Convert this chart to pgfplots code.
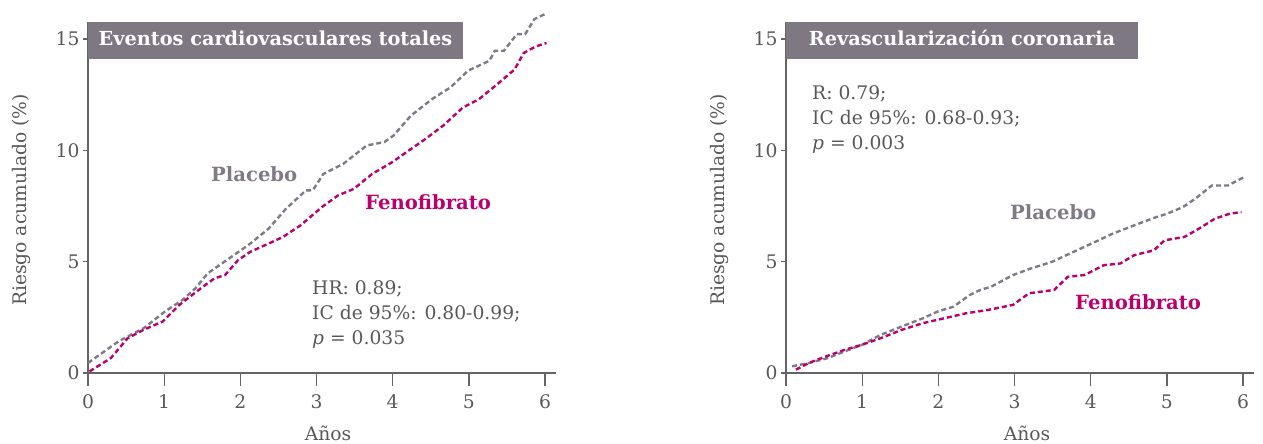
\documentclass[border=0pt]{standalone}
\usepackage{fontspec}
\setmainfont{DejaVu Serif}
\usepackage{pgfplots}
\pgfplotsset{compat=1.18}
\definecolor{plgray}{RGB}{127,122,133}
\definecolor{fenomag}{RGB}{185,0,110}
\definecolor{txtgray}{RGB}{88,88,90}
\definecolor{axgray}{RGB}{100,100,102}
\definecolor{boxgray}{RGB}{126,120,131}
\newcommand{\fs}{\fontsize{18.7pt}{25pt}\selectfont}
\newcommand{\fb}{\fontsize{19.6pt}{25pt}\selectfont\bfseries}
\pgfplotsset{panel/.style={
  scale only axis, width=468pt, height=350.7pt,
  xmin=0, xmax=6.144, ymin=0, ymax=15.75,
  axis line style={-, draw=axgray, line width=1.3pt},
  tick align=outside,
  tick style={draw=axgray, line width=1.3pt},
  ticklabel style={font=\fs, text=txtgray},
  /pgf/number format/assume math mode=true,
  clip=false,
  anchor=south west,
},
xpanel/.style={panel, axis x line*=bottom, axis y line=none,
  xtick={0,1,2,3,4,5,6}, ytick=\empty, major tick length=13pt,
  x tick label style={yshift=-5pt}},
ypanel/.style={panel, axis y line*=left, axis x line=none,
  ytick={0,5,10,15}, xtick=\empty, major tick length=5pt},
plc/.style={plgray, line width=2.4pt, dash pattern=on 5pt off 3pt},
fnc/.style={fenomag, line width=2.4pt, dash pattern=on 5pt off 3pt}}
\begin{document}
\begin{tikzpicture}[font=\fs]
\path[use as bounding box] (0,0) rectangle (1263pt,444pt);
% left panel
\begin{axis}[ypanel, at={(88pt,71pt)}]
\end{axis}
\begin{axis}[xpanel, at={(88pt,71pt)}]
\addplot[plc] coordinates {
(0,0.45) (0.40,1.42) (0.73,2.01) (1.01,2.76) (1.24,3.28) (1.41,3.80) (1.57,4.47)
(1.85,5.14) (2.13,5.81) (2.37,6.48) (2.60,7.38) (2.86,8.20) (2.95,8.20) (3.09,8.94)
(3.35,9.39) (3.66,10.22) (3.89,10.37) (4.01,10.66) (4.24,11.56) (4.52,12.31)
(4.76,12.83) (4.99,13.58) (5.27,14.02) (5.34,14.47) (5.46,14.47) (5.63,15.22)
(5.74,15.22) (5.86,15.89) (6.00,16.12)};
\addplot[fnc] coordinates {
(0.02,0.07) (0.30,0.67) (0.52,1.56) (0.73,1.94) (0.98,2.31) (1.20,3.06) (1.48,3.80)
(1.66,4.25) (1.80,4.40) (1.97,5.07) (2.13,5.44) (2.37,5.81) (2.56,6.11) (2.79,6.63)
(3.07,7.45) (3.28,7.97) (3.49,8.27) (3.73,8.94) (3.99,9.46) (4.24,10.06) (4.43,10.51)
(4.66,11.10) (4.92,11.92) (5.13,12.29) (5.37,12.96) (5.60,13.63) (5.72,14.37)
(5.88,14.67) (6.02,14.82)};
\end{axis}
% right panel
\begin{axis}[ypanel, at={(786pt,71pt)}]
\end{axis}
\begin{axis}[xpanel, at={(786pt,71pt)}]
\addplot[plc] coordinates {
(0.08,0.30) (0.30,0.45) (0.55,0.67) (0.77,0.97) (1.00,1.27) (1.24,1.71) (1.52,2.09)
(1.80,2.46) (1.99,2.76) (2.20,2.98) (2.41,3.50) (2.55,3.73) (2.69,3.87) (2.98,4.40)
(3.21,4.69) (3.49,4.99) (3.73,5.37) (4.01,5.81) (4.29,6.26) (4.57,6.63) (4.86,7.00)
(5.00,7.15) (5.21,7.45) (5.37,7.82) (5.59,8.42) (5.80,8.42) (6.01,8.79)};
\addplot[fnc] coordinates {
(0.13,0.15) (0.30,0.45) (0.53,0.75) (0.77,1.04) (1.00,1.27) (1.24,1.56) (1.52,1.94)
(1.80,2.24) (2.08,2.46) (2.36,2.68) (2.65,2.83) (2.98,3.06) (3.19,3.58) (3.52,3.73)
(3.70,4.32) (3.92,4.40) (4.17,4.84) (4.39,4.92) (4.57,5.29) (4.83,5.51) (4.97,5.96)
(5.23,6.11) (5.42,6.48) (5.63,6.93) (5.82,7.15) (5.98,7.23)};
\end{axis}
% title boxes
\fill[boxgray] (88pt,384.7pt) rectangle (463pt,421.7pt);
\node[anchor=base, text=white, font=\fontsize{19.3pt}{22pt}\selectfont\bfseries, inner sep=0pt] at (275.5pt,398.3pt) {Eventos cardiovasculares totales};
\fill[boxgray] (786pt,384.7pt) rectangle (1137.7pt,421.7pt);
\node[anchor=base, text=white, font=\fontsize{19.3pt}{22pt}\selectfont\bfseries, inner sep=0pt] at (962pt,398.3pt) {Revascularización coronaria};
% axis labels
\node[rotate=90, anchor=base, text=txtgray, inner sep=0pt] at (26pt,244pt) {Riesgo acumulado (\%)};
\node[rotate=90, anchor=base, text=txtgray, inner sep=0pt] at (724pt,244pt) {Riesgo acumulado (\%)};
\node[anchor=base, text=txtgray, inner sep=0pt] at (328pt,3pt) {Años};
\node[anchor=base, text=txtgray, inner sep=0pt] at (1027pt,3pt) {Años};
% series labels
\node[anchor=base west, text=plgray, font=\fb, inner sep=0pt] at (211pt,262pt) {Placebo};
\node[anchor=base west, text=fenomag, font=\fb, inner sep=0pt] at (365pt,234pt) {Fenofibrato};
\node[anchor=base west, text=plgray, font=\fb, inner sep=0pt] at (1010pt,224pt) {Placebo};
\node[anchor=base west, text=fenomag, font=\fb, inner sep=0pt] at (1075pt,134pt) {Fenofibrato};
% annotations
\node[anchor=base west, text=txtgray, inner sep=0pt] at (312pt,149pt) {HR: 0.89;};
\node[anchor=base west, text=txtgray, inner sep=0pt] at (312pt,124pt) {IC de 95\%: 0.80-0.99;};
\node[anchor=base west, text=txtgray, inner sep=0pt] at (312pt,99pt) {\textit{p} = 0.035};
\node[anchor=base west, text=txtgray, inner sep=0pt] at (812pt,344pt) {R: 0.79;};
\node[anchor=base west, text=txtgray, inner sep=0pt] at (812pt,319pt) {IC de 95\%: 0.68-0.93;};
\node[anchor=base west, text=txtgray, inner sep=0pt] at (812pt,294pt) {\textit{p} = 0.003};
\end{tikzpicture}
\end{document}
